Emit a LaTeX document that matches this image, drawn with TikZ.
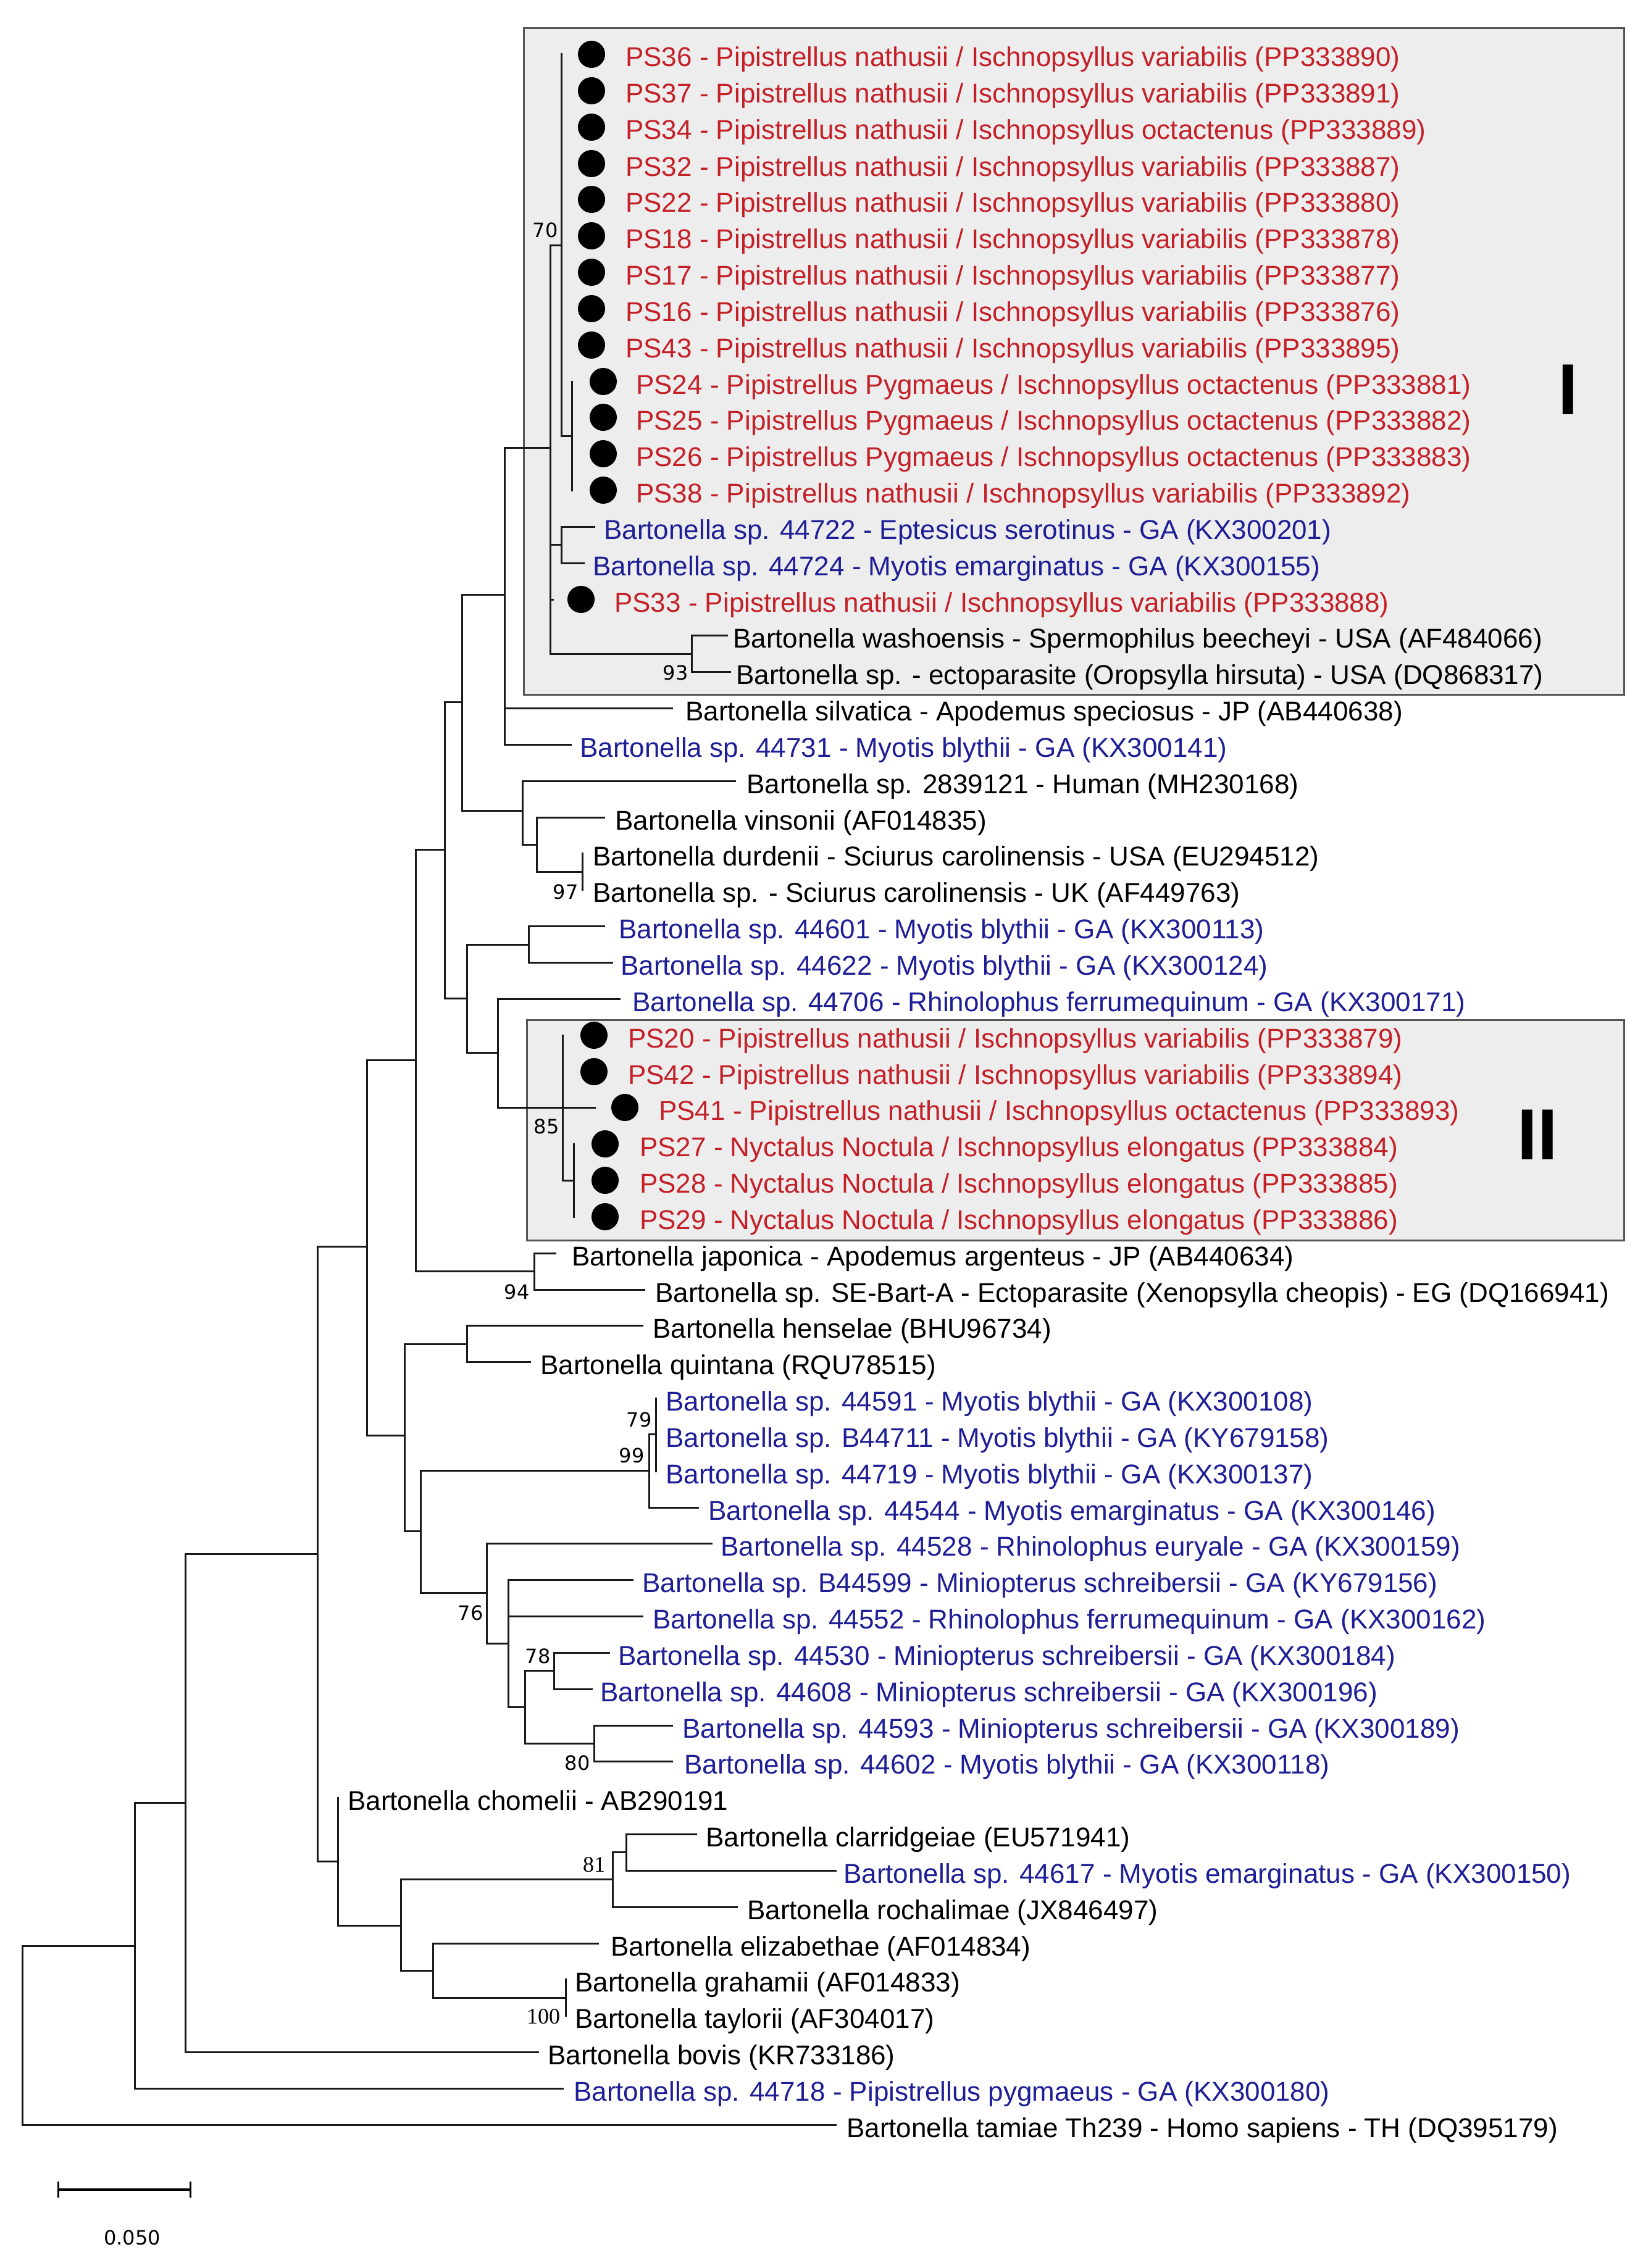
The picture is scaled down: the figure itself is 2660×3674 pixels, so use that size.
\documentclass[tikz,border=0pt]{standalone}
\usepackage{fontspec}
\setmainfont{Liberation Sans}
\newfontfamily\bsfont{DejaVu Sans}
\newfontfamily\bsserif{Liberation Serif}
\definecolor{pred}{RGB}{196,32,40}
\definecolor{pblue}{RGB}{30,30,150}
\definecolor{boxgray}{RGB}{237,237,237}
\definecolor{boxline}{RGB}{85,85,85}
\newcommand\leaf[6]{\coordinate (#1) at (#2,#3); \node[lab,#5] (#1t) at (#4,{#3+20}) {#6};}
\begin{document}
\begin{tikzpicture}[x=1pt,y=-1pt,
  lab/.style={anchor=base west,inner sep=0pt,font=\fontsize{44}{50}\selectfont},
  red/.style={text=pred}, blue/.style={text=pblue}, blk/.style={text=black},
  br/.style={line width=3pt,line cap=rect,black!90},
  boot/.style={inner sep=0pt,font=\bsfont\fontsize{32}{35}\selectfont},
  bootserif/.style={inner sep=0pt,font=\bsserif\fontsize{36}{39}\selectfont},
  cladebox/.style={fill=boxgray,draw=boxline,line width=3pt},
  roman/.style={inner sep=0pt,font=\bfseries\fontsize{117}{120}\selectfont},
  dotm/.style={fill=black}]
\useasboundingbox (0,0) rectangle (2660,3674);
\fill[white] (0,0) rectangle (2660,3674);
% clade boxes
\draw[cladebox] (848,46) rectangle (2630,1125);
\draw[cladebox] (853,1652) rectangle (2630,2009);
\node[roman] (rI) at (2540,631) {I};
\node[roman] (rII) at (2490,1838) {II};
% leaves
\leaf{l1}{909}{88}{1013}{red}{PS36 - Pipistrellus nathusii / Ischnopsyllus variabilis (PP333890)}
\leaf{l2}{909}{147}{1013}{red}{PS37 - Pipistrellus nathusii / Ischnopsyllus variabilis (PP333891)}
\leaf{l3}{909}{206}{1013}{red}{PS34 - Pipistrellus nathusii / Ischnopsyllus octactenus (PP333889)}
\leaf{l4}{909}{265}{1013}{red}{PS32 - Pipistrellus nathusii / Ischnopsyllus variabilis (PP333887)}
\leaf{l5}{909}{323}{1013}{red}{PS22 - Pipistrellus nathusii / Ischnopsyllus variabilis (PP333880)}
\leaf{l6}{909}{382}{1013}{red}{PS18 - Pipistrellus nathusii / Ischnopsyllus variabilis (PP333878)}
\leaf{l7}{909}{441}{1013}{red}{PS17 - Pipistrellus nathusii / Ischnopsyllus variabilis (PP333877)}
\leaf{l8}{909}{500}{1013}{red}{PS16 - Pipistrellus nathusii / Ischnopsyllus variabilis (PP333876)}
\leaf{l9}{909}{559}{1013}{red}{PS43 - Pipistrellus nathusii / Ischnopsyllus variabilis (PP333895)}
\leaf{l10}{926}{618}{1030}{red}{PS24 - Pipistrellus Pygmaeus / Ischnopsyllus octactenus (PP333881)}
\leaf{l11}{926}{676}{1030}{red}{PS25 - Pipistrellus Pygmaeus / Ischnopsyllus octactenus (PP333882)}
\leaf{l12}{926}{735}{1030}{red}{PS26 - Pipistrellus Pygmaeus / Ischnopsyllus octactenus (PP333883)}
\leaf{l13}{926}{794}{1030}{red}{PS38 - Pipistrellus nathusii / Ischnopsyllus variabilis (PP333892)}
\leaf{l14}{962}{853}{978}{blue}{Bartonella sp. 44722 - Eptesicus serotinus - GA (KX300201)}
\leaf{l15}{945}{912}{960}{blue}{Bartonella sp. 44724 - Myotis emarginatus - GA (KX300155)}
\leaf{l16}{895}{971}{995}{red}{PS33 - Pipistrellus nathusii / Ischnopsyllus variabilis (PP333888)}
\leaf{l17}{1177}{1029}{1187}{blk}{Bartonella washoensis - Spermophilus beecheyi - USA (AF484066)}
\leaf{l18}{1182}{1088}{1192}{blk}{Bartonella sp. - ectoparasite (Oropsylla hirsuta) - USA (DQ868317)}
\leaf{l19}{1088}{1147}{1110}{blk}{Bartonella silvatica - Apodemus speciosus - JP (AB440638)}
\leaf{l20}{924}{1206}{939}{blue}{Bartonella sp. 44731 - Myotis blythii - GA (KX300141)}
\leaf{l21}{1190}{1265}{1209}{blk}{Bartonella sp. 2839121 - Human (MH230168)}
\leaf{l22}{978}{1324}{996}{blk}{Bartonella vinsonii (AF014835)}
\leaf{l23}{943}{1382}{960}{blk}{Bartonella durdenii - Sciurus carolinensis - USA (EU294512)}
\leaf{l24}{943}{1441}{960}{blk}{Bartonella sp. - Sciurus carolinensis - UK (AF449763)}
\leaf{l25}{978}{1500}{1002}{blue}{Bartonella sp. 44601 - Myotis blythii - GA (KX300113)}
\leaf{l26}{991}{1559}{1005}{blue}{Bartonella sp. 44622 - Myotis blythii - GA (KX300124)}
\leaf{l27}{1003}{1618}{1024}{blue}{Bartonella sp. 44706 - Rhinolophus ferrumequinum - GA (KX300171)}
\leaf{l28}{911}{1677}{1017}{red}{PS20 - Pipistrellus nathusii / Ischnopsyllus variabilis (PP333879)}
\leaf{l29}{911}{1736}{1017}{red}{PS42 - Pipistrellus nathusii / Ischnopsyllus variabilis (PP333894)}
\leaf{l30}{963}{1794}{1067}{red}{PS41 - Pipistrellus nathusii / Ischnopsyllus octactenus (PP333893)}
\leaf{l31}{929}{1853}{1036}{red}{PS27 - Nyctalus Noctula / Ischnopsyllus elongatus (PP333884)}
\leaf{l32}{929}{1912}{1036}{red}{PS28 - Nyctalus Noctula / Ischnopsyllus elongatus (PP333885)}
\leaf{l33}{929}{1971}{1036}{red}{PS29 - Nyctalus Noctula / Ischnopsyllus elongatus (PP333886)}
\leaf{l34}{899}{2030}{926}{blk}{Bartonella japonica - Apodemus argenteus - JP (AB440634)}
\leaf{l35}{1043}{2089}{1061}{blk}{Bartonella sp. SE-Bart-A - Ectoparasite (Xenopsylla cheopis) - EG (DQ166941)}
\leaf{l36}{1040}{2147}{1057}{blk}{Bartonella henselae (BHU96734)}
\leaf{l37}{858}{2206}{875}{blk}{Bartonella quintana (RQU78515)}
\leaf{l38}{1062}{2265}{1078}{blue}{Bartonella sp. 44591 - Myotis blythii - GA (KX300108)}
\leaf{l39}{1062}{2324}{1078}{blue}{Bartonella sp. B44711 - Myotis blythii - GA (KY679158)}
\leaf{l40}{1062}{2383}{1078}{blue}{Bartonella sp. 44719 - Myotis blythii - GA (KX300137)}
\leaf{l41}{1130}{2442}{1147}{blue}{Bartonella sp. 44544 - Myotis emarginatus - GA (KX300146)}
\leaf{l42}{1152}{2500}{1167}{blue}{Bartonella sp. 44528 - Rhinolophus euryale - GA (KX300159)}
\leaf{l43}{1024}{2559}{1040}{blue}{Bartonella sp. B44599 - Miniopterus schreibersii - GA (KY679156)}
\leaf{l44}{1040}{2618}{1057}{blue}{Bartonella sp. 44552 - Rhinolophus ferrumequinum - GA (KX300162)}
\leaf{l45}{986}{2677}{1001}{blue}{Bartonella sp. 44530 - Miniopterus schreibersii - GA (KX300184)}
\leaf{l46}{958}{2736}{972}{blue}{Bartonella sp. 44608 - Miniopterus schreibersii - GA (KX300196)}
\leaf{l47}{1088}{2795}{1105}{blue}{Bartonella sp. 44593 - Miniopterus schreibersii - GA (KX300189)}
\leaf{l48}{1088}{2853}{1108}{blue}{Bartonella sp. 44602 - Myotis blythii - GA (KX300118)}
\leaf{l49}{547}{2912}{563}{blk}{Bartonella chomelii - AB290191}
\leaf{l50}{1127}{2971}{1143}{blk}{Bartonella clarridgeiae (EU571941)}
\leaf{l51}{1353}{3030}{1366}{blue}{Bartonella sp. 44617 - Myotis emarginatus - GA (KX300150)}
\leaf{l52}{1193}{3089}{1210}{blk}{Bartonella rochalimae (JX846497)}
\leaf{l53}{968}{3148}{989}{blk}{Bartonella elizabethae (AF014834)}
\leaf{l54}{916}{3206}{931}{blk}{Bartonella grahamii (AF014833)}
\leaf{l55}{916}{3265}{931}{blk}{Bartonella taylorii (AF304017)}
\leaf{l56}{871}{3324}{887}{blk}{Bartonella bovis (KR733186)}
\leaf{l57}{911}{3383}{929}{blue}{Bartonella sp. 44718 - Pipistrellus pygmaeus - GA (KX300180)}
\leaf{l58}{1353}{3442}{1371}{blk}{Bartonella tamiae Th239 - Homo sapiens - TH (DQ395179)}
% internal nodes
\coordinate (nR) at (36,3297);
\coordinate (nA) at (218,3152);
\coordinate (nB) at (300,2920);
\coordinate (nC) at (514,2517);
\coordinate (nD) at (594,2019);
\coordinate (nE) at (547,3015);
\coordinate (nF) at (649,3119);
\coordinate (nG) at (992,3044);
\coordinate (nJ) at (1014,3000);
\coordinate (nH) at (701,3192);
\coordinate (nK) at (916,3236);
\coordinate (nL) at (673,1717);
\coordinate (nO) at (865,2059);
\coordinate (nN) at (720,1376);
\coordinate (nP) at (748,1137);
\coordinate (nS) at (817,963);
\coordinate (nU) at (891,725);
\coordinate (nV) at (909,397);
\coordinate (nY) at (926,706);
\coordinate (nW) at (909,882);
\coordinate (nX) at (1120,1059);
\coordinate (nT) at (846,1313);
\coordinate (nZ) at (869,1368);
\coordinate (nAA) at (943,1412);
\coordinate (nQ) at (756,1617);
\coordinate (nAB) at (856,1530);
\coordinate (nAC) at (806,1705);
\coordinate (nAD) at (911,1794);
\coordinate (nAE) at (929,1912);
\coordinate (nM) at (655,2325);
\coordinate (nAF) at (756,2177);
\coordinate (nAG) at (681,2480);
\coordinate (nAH) at (1051,2382);
\coordinate (nAJ) at (1062,2323);
\coordinate (nAI) at (788,2580);
\coordinate (nAK) at (823,2662);
\coordinate (nAL) at (850,2765);
\coordinate (nAM) at (897,2706);
\coordinate (nAN) at (962,2824);
% branches
\foreach \p/\c in {nR/nA,nR/l58,nA/nB,nA/l57,nB/nC,nB/l56,nC/nD,nC/nE,
  nE/l49,nE/nF,nF/nG,nF/nH,nG/nJ,nG/l52,nJ/l50,nJ/l51,nH/l53,nH/nK,nK/l54,nK/l55,
  nD/nL,nD/nM,nL/nN,nL/nO,nO/l34,nO/l35,nN/nP,nN/nQ,nP/nS,nP/nT,
  nS/nU,nS/l19,nS/l20,nU/nV,nU/nW,nU/l16,nU/nX,
  nV/l1,nV/l2,nV/l3,nV/l4,nV/l5,nV/l6,nV/l7,nV/l8,nV/l9,nV/nY,
  nY/l10,nY/l11,nY/l12,nY/l13,nW/l14,nW/l15,nX/l17,nX/l18,
  nT/l21,nT/nZ,nZ/l22,nZ/nAA,nAA/l23,nAA/l24,
  nQ/nAB,nQ/nAC,nAB/l25,nAB/l26,nAC/l27,nAC/nAD,
  nAD/l28,nAD/l29,nAD/l30,nAD/nAE,nAE/l31,nAE/l32,nAE/l33,
  nM/nAF,nM/nAG,nAF/l36,nAF/l37,nAG/nAH,nAG/nAI,nAH/nAJ,nAH/l41,
  nAJ/l38,nAJ/l39,nAJ/l40,nAI/l42,nAI/nAK,nAK/l43,nAK/l44,nAK/nAL,
  nAL/nAM,nAL/nAN,nAM/l45,nAM/l46,nAN/l47,nAN/l48}
  \draw[br] (\p) |- (\c);
% dots
\foreach \y in {88,147,206,265,323,382,441,500,559} \fill[dotm] (958,\y) circle[radius=22];
\foreach \y in {618,676,735,794} \fill[dotm] (977,\y) circle[radius=22];
\fill[dotm] (941,971) circle[radius=22];
\fill[dotm] (962,1677) circle[radius=22];
\fill[dotm] (962,1736) circle[radius=22];
\fill[dotm] (1012,1794) circle[radius=22];
\foreach \y in {1853,1912,1971} \fill[dotm] (980,\y) circle[radius=22];
% bootstrap values
\node[boot] (b70) at (883,373) {70};
\node[boot] (b93) at (1094,1090) {93};
\node[boot] (b97) at (916,1445) {97};
\node[boot] (b85) at (885,1825) {85};
\node[boot] (b94) at (837,2093) {94};
\node[boot] (b79) at (1035,2300) {79};
\node[boot] (b99) at (1023,2358) {99};
\node[boot] (b76) at (762,2613) {76};
\node[boot] (b78) at (871,2683) {78};
\node[boot] (b80) at (935,2856) {80};
\node[bootserif] (b81) at (962,3021) {81};
\node[bootserif] (b100) at (880,3267) {100};
% scale bar
\coordinate (sb1) at (94,3547);
\coordinate (sb2) at (308,3547);
\draw[line width=4pt] (sb1) -- (sb2);
\draw[line width=3pt] ([yshift=13pt]sb1) -- ([yshift=-13pt]sb1);
\draw[line width=3pt] ([yshift=13pt]sb2) -- ([yshift=-13pt]sb2);
\node[boot] (sbl) at (214,3625) {0.050};
\end{tikzpicture}
\end{document}
